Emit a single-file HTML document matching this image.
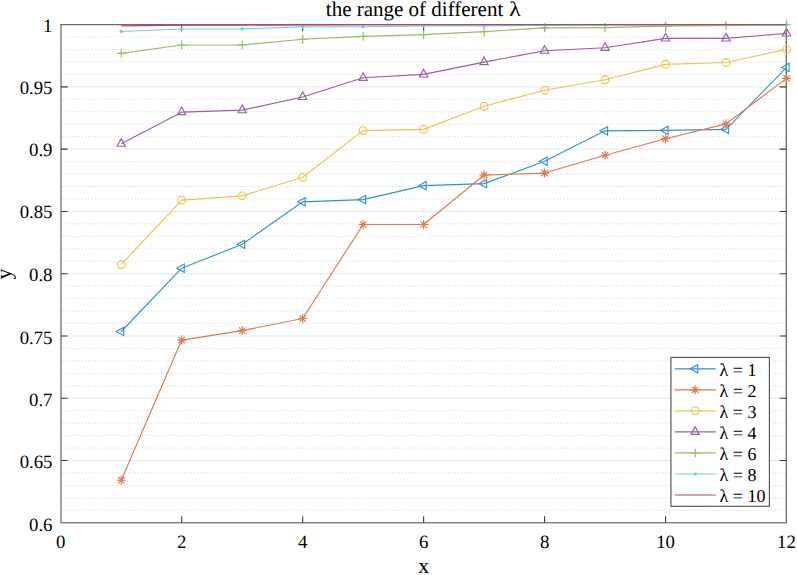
<!DOCTYPE html>
<html><head><meta charset="utf-8"><title>the range of different lambda</title>
<style>
html,body{margin:0;padding:0;background:#fff;}
body{width:797px;height:575px;overflow:hidden;font-family:"Liberation Serif",serif;}
svg{display:block;text-rendering:geometricPrecision;}
</style></head><body>
<svg width="797" height="575" viewBox="0 0 797 575">
<rect x="0" y="0" width="797" height="575" fill="#fff"/>
<g><line x1="62.00" y1="510.34" x2="786.30" y2="510.34" stroke="#d0d0d0" stroke-width="1" stroke-dasharray="1 2.3"/><line x1="62.00" y1="497.89" x2="786.30" y2="497.89" stroke="#d0d0d0" stroke-width="1" stroke-dasharray="1 2.3"/><line x1="62.00" y1="485.43" x2="786.30" y2="485.43" stroke="#d0d0d0" stroke-width="1" stroke-dasharray="1 2.3"/><line x1="62.00" y1="472.98" x2="786.30" y2="472.98" stroke="#d0d0d0" stroke-width="1" stroke-dasharray="1 2.3"/><line x1="61.00" y1="460.52" x2="786.30" y2="460.52" stroke="#e6e6e6" stroke-width="1"/><line x1="62.00" y1="448.07" x2="786.30" y2="448.07" stroke="#d0d0d0" stroke-width="1" stroke-dasharray="1 2.3"/><line x1="62.00" y1="435.62" x2="786.30" y2="435.62" stroke="#d0d0d0" stroke-width="1" stroke-dasharray="1 2.3"/><line x1="62.00" y1="423.16" x2="786.30" y2="423.16" stroke="#d0d0d0" stroke-width="1" stroke-dasharray="1 2.3"/><line x1="62.00" y1="410.71" x2="786.30" y2="410.71" stroke="#d0d0d0" stroke-width="1" stroke-dasharray="1 2.3"/><line x1="61.00" y1="398.25" x2="786.30" y2="398.25" stroke="#e6e6e6" stroke-width="1"/><line x1="62.00" y1="385.79" x2="786.30" y2="385.79" stroke="#d0d0d0" stroke-width="1" stroke-dasharray="1 2.3"/><line x1="62.00" y1="373.34" x2="786.30" y2="373.34" stroke="#d0d0d0" stroke-width="1" stroke-dasharray="1 2.3"/><line x1="62.00" y1="360.88" x2="786.30" y2="360.88" stroke="#d0d0d0" stroke-width="1" stroke-dasharray="1 2.3"/><line x1="62.00" y1="348.43" x2="786.30" y2="348.43" stroke="#d0d0d0" stroke-width="1" stroke-dasharray="1 2.3"/><line x1="61.00" y1="335.97" x2="786.30" y2="335.97" stroke="#e6e6e6" stroke-width="1"/><line x1="62.00" y1="323.52" x2="786.30" y2="323.52" stroke="#d0d0d0" stroke-width="1" stroke-dasharray="1 2.3"/><line x1="62.00" y1="311.06" x2="786.30" y2="311.06" stroke="#d0d0d0" stroke-width="1" stroke-dasharray="1 2.3"/><line x1="62.00" y1="298.61" x2="786.30" y2="298.61" stroke="#d0d0d0" stroke-width="1" stroke-dasharray="1 2.3"/><line x1="62.00" y1="286.15" x2="786.30" y2="286.15" stroke="#d0d0d0" stroke-width="1" stroke-dasharray="1 2.3"/><line x1="61.00" y1="273.70" x2="786.30" y2="273.70" stroke="#e6e6e6" stroke-width="1"/><line x1="62.00" y1="261.25" x2="786.30" y2="261.25" stroke="#d0d0d0" stroke-width="1" stroke-dasharray="1 2.3"/><line x1="62.00" y1="248.79" x2="786.30" y2="248.79" stroke="#d0d0d0" stroke-width="1" stroke-dasharray="1 2.3"/><line x1="62.00" y1="236.34" x2="786.30" y2="236.34" stroke="#d0d0d0" stroke-width="1" stroke-dasharray="1 2.3"/><line x1="62.00" y1="223.88" x2="786.30" y2="223.88" stroke="#d0d0d0" stroke-width="1" stroke-dasharray="1 2.3"/><line x1="61.00" y1="211.43" x2="786.30" y2="211.43" stroke="#e6e6e6" stroke-width="1"/><line x1="62.00" y1="198.97" x2="786.30" y2="198.97" stroke="#d0d0d0" stroke-width="1" stroke-dasharray="1 2.3"/><line x1="62.00" y1="186.51" x2="786.30" y2="186.51" stroke="#d0d0d0" stroke-width="1" stroke-dasharray="1 2.3"/><line x1="62.00" y1="174.06" x2="786.30" y2="174.06" stroke="#d0d0d0" stroke-width="1" stroke-dasharray="1 2.3"/><line x1="62.00" y1="161.61" x2="786.30" y2="161.61" stroke="#d0d0d0" stroke-width="1" stroke-dasharray="1 2.3"/><line x1="61.00" y1="149.15" x2="786.30" y2="149.15" stroke="#e6e6e6" stroke-width="1"/><line x1="62.00" y1="136.70" x2="786.30" y2="136.70" stroke="#d0d0d0" stroke-width="1" stroke-dasharray="1 2.3"/><line x1="62.00" y1="124.24" x2="786.30" y2="124.24" stroke="#d0d0d0" stroke-width="1" stroke-dasharray="1 2.3"/><line x1="62.00" y1="111.79" x2="786.30" y2="111.79" stroke="#d0d0d0" stroke-width="1" stroke-dasharray="1 2.3"/><line x1="62.00" y1="99.33" x2="786.30" y2="99.33" stroke="#d0d0d0" stroke-width="1" stroke-dasharray="1 2.3"/><line x1="61.00" y1="86.88" x2="786.30" y2="86.88" stroke="#e6e6e6" stroke-width="1"/><line x1="62.00" y1="74.42" x2="786.30" y2="74.42" stroke="#d0d0d0" stroke-width="1" stroke-dasharray="1 2.3"/><line x1="62.00" y1="61.97" x2="786.30" y2="61.97" stroke="#d0d0d0" stroke-width="1" stroke-dasharray="1 2.3"/><line x1="62.00" y1="49.51" x2="786.30" y2="49.51" stroke="#d0d0d0" stroke-width="1" stroke-dasharray="1 2.3"/><line x1="62.00" y1="37.06" x2="786.30" y2="37.06" stroke="#d0d0d0" stroke-width="1" stroke-dasharray="1 2.3"/></g>
<path d="M61.0,24.6V522.8" stroke="#8a8a8a" stroke-width="1.6"/><path d="M786.3,24.6V522.8" stroke="#6a6a6a" stroke-width="1.3"/><path d="M60.2,24.6H786.9499999999999" stroke="#6a6a6a" stroke-width="1.3"/><path d="M60.2,522.8H786.9499999999999" stroke="#858585" stroke-width="1.6"/>
<path d="M181.71,522.80V516.20M181.71,24.60V31.20M302.67,522.80V516.20M302.67,24.60V31.20M423.63,522.80V516.20M423.63,24.60V31.20M544.59,522.80V516.20M544.59,24.60V31.20M665.55,522.80V516.20M665.55,24.60V31.20M61.00,460.52H67.60M786.30,460.52H779.70M61.00,398.25H67.60M786.30,398.25H779.70M61.00,335.97H67.60M786.30,335.97H779.70M61.00,273.70H67.60M786.30,273.70H779.70M61.00,211.43H67.60M786.30,211.43H779.70M61.00,149.15H67.60M786.30,149.15H779.70M61.00,86.88H67.60M786.30,86.88H779.70" stroke="#3a3a3a" stroke-width="1.1" fill="none"/>
<polyline points="121.23,331.49 181.71,268.22 242.19,244.31 302.67,201.83 363.15,199.59 423.63,185.64 484.11,183.65 544.59,161.23 605.07,130.84 665.55,130.34 726.03,129.35 786.51,67.45" fill="none" stroke="#3891cc" stroke-width="1.15" stroke-linejoin="round"/>
<path d="M116.16,331.49 L123.76,327.34 L123.76,335.64Z" fill="none" stroke="#3891cc" stroke-width="1.15" stroke-linejoin="miter"/><path d="M176.64,268.22 L184.24,264.07 L184.24,272.37Z" fill="none" stroke="#3891cc" stroke-width="1.15" stroke-linejoin="miter"/><path d="M237.12,244.31 L244.72,240.16 L244.72,248.46Z" fill="none" stroke="#3891cc" stroke-width="1.15" stroke-linejoin="miter"/><path d="M297.60,201.83 L305.20,197.68 L305.20,205.98Z" fill="none" stroke="#3891cc" stroke-width="1.15" stroke-linejoin="miter"/><path d="M358.08,199.59 L365.68,195.44 L365.68,203.74Z" fill="none" stroke="#3891cc" stroke-width="1.15" stroke-linejoin="miter"/><path d="M418.56,185.64 L426.16,181.49 L426.16,189.79Z" fill="none" stroke="#3891cc" stroke-width="1.15" stroke-linejoin="miter"/><path d="M479.04,183.65 L486.64,179.50 L486.64,187.80Z" fill="none" stroke="#3891cc" stroke-width="1.15" stroke-linejoin="miter"/><path d="M539.52,161.23 L547.12,157.08 L547.12,165.38Z" fill="none" stroke="#3891cc" stroke-width="1.15" stroke-linejoin="miter"/><path d="M600.00,130.84 L607.60,126.69 L607.60,134.99Z" fill="none" stroke="#3891cc" stroke-width="1.15" stroke-linejoin="miter"/><path d="M660.48,130.34 L668.08,126.19 L668.08,134.49Z" fill="none" stroke="#3891cc" stroke-width="1.15" stroke-linejoin="miter"/><path d="M720.96,129.35 L728.56,125.20 L728.56,133.50Z" fill="none" stroke="#3891cc" stroke-width="1.15" stroke-linejoin="miter"/><path d="M781.44,67.45 L789.04,63.30 L789.04,71.60Z" fill="none" stroke="#3891cc" stroke-width="1.15" stroke-linejoin="miter"/>
<polyline points="121.23,480.20 181.71,340.09 242.19,330.62 302.67,318.54 363.15,224.50 423.63,224.50 484.11,175.06 544.59,173.06 605.07,155.25 665.55,138.69 726.03,123.87 786.51,78.41" fill="none" stroke="#e1794c" stroke-width="1.15" stroke-linejoin="round"/>
<path d="M116.73,480.20H125.73M121.23,475.70V484.70M118.05,477.02L124.41,483.39M118.05,483.39L124.41,477.02" stroke="#e1794c" stroke-width="1.15"/><path d="M177.21,340.09H186.21M181.71,335.59V344.59M178.53,336.90L184.89,343.27M178.53,343.27L184.89,336.90" stroke="#e1794c" stroke-width="1.15"/><path d="M237.69,330.62H246.69M242.19,326.12V335.12M239.01,327.44L245.37,333.80M239.01,333.80L245.37,327.44" stroke="#e1794c" stroke-width="1.15"/><path d="M298.17,318.54H307.17M302.67,314.04V323.04M299.49,315.36L305.85,321.72M299.49,321.72L305.85,315.36" stroke="#e1794c" stroke-width="1.15"/><path d="M358.65,224.50H367.65M363.15,220.00V229.00M359.97,221.32L366.33,227.68M359.97,227.68L366.33,221.32" stroke="#e1794c" stroke-width="1.15"/><path d="M419.13,224.50H428.13M423.63,220.00V229.00M420.45,221.32L426.81,227.68M420.45,227.68L426.81,221.32" stroke="#e1794c" stroke-width="1.15"/><path d="M479.61,175.06H488.61M484.11,170.56V179.56M480.93,171.87L487.29,178.24M480.93,178.24L487.29,171.87" stroke="#e1794c" stroke-width="1.15"/><path d="M540.09,173.06H549.09M544.59,168.56V177.56M541.41,169.88L547.77,176.25M541.41,176.25L547.77,169.88" stroke="#e1794c" stroke-width="1.15"/><path d="M600.57,155.25H609.57M605.07,150.75V159.75M601.89,152.07L608.25,158.43M601.89,158.43L608.25,152.07" stroke="#e1794c" stroke-width="1.15"/><path d="M661.05,138.69H670.05M665.55,134.19V143.19M662.37,135.51L668.73,141.87M662.37,141.87L668.73,135.51" stroke="#e1794c" stroke-width="1.15"/><path d="M721.53,123.87H730.53M726.03,119.37V128.37M722.85,120.68L729.21,127.05M722.85,127.05L729.21,120.68" stroke="#e1794c" stroke-width="1.15"/><path d="M782.01,78.41H791.01M786.51,73.91V82.91M783.33,75.22L789.69,81.59M783.33,81.59L789.69,75.22" stroke="#e1794c" stroke-width="1.15"/>
<polyline points="121.23,264.48 181.71,200.09 242.19,195.86 302.67,177.30 363.15,130.59 423.63,129.35 484.11,106.30 544.59,90.24 605.07,79.78 665.55,64.33 726.03,62.46 786.51,49.39" fill="none" stroke="#f1c251" stroke-width="1.15" stroke-linejoin="round"/>
<circle cx="121.23" cy="264.48" r="3.9" fill="none" stroke="#f1c251" stroke-width="1.15"/><circle cx="181.71" cy="200.09" r="3.9" fill="none" stroke="#f1c251" stroke-width="1.15"/><circle cx="242.19" cy="195.86" r="3.9" fill="none" stroke="#f1c251" stroke-width="1.15"/><circle cx="302.67" cy="177.30" r="3.9" fill="none" stroke="#f1c251" stroke-width="1.15"/><circle cx="363.15" cy="130.59" r="3.9" fill="none" stroke="#f1c251" stroke-width="1.15"/><circle cx="423.63" cy="129.35" r="3.9" fill="none" stroke="#f1c251" stroke-width="1.15"/><circle cx="484.11" cy="106.30" r="3.9" fill="none" stroke="#f1c251" stroke-width="1.15"/><circle cx="544.59" cy="90.24" r="3.9" fill="none" stroke="#f1c251" stroke-width="1.15"/><circle cx="605.07" cy="79.78" r="3.9" fill="none" stroke="#f1c251" stroke-width="1.15"/><circle cx="665.55" cy="64.33" r="3.9" fill="none" stroke="#f1c251" stroke-width="1.15"/><circle cx="726.03" cy="62.46" r="3.9" fill="none" stroke="#f1c251" stroke-width="1.15"/><circle cx="786.51" cy="49.39" r="3.9" fill="none" stroke="#f1c251" stroke-width="1.15"/>
<polyline points="121.23,143.67 181.71,112.16 242.19,110.17 302.67,96.96 363.15,77.78 423.63,74.42 484.11,62.09 544.59,50.76 605.07,47.77 665.55,38.43 726.03,38.43 786.51,33.44" fill="none" stroke="#9a5da7" stroke-width="1.15" stroke-linejoin="round"/>
<path d="M121.23,138.60 L125.38,146.20 L117.08,146.20Z" fill="none" stroke="#9a5da7" stroke-width="1.15" stroke-linejoin="miter"/><path d="M181.71,107.09 L185.86,114.69 L177.56,114.69Z" fill="none" stroke="#9a5da7" stroke-width="1.15" stroke-linejoin="miter"/><path d="M242.19,105.10 L246.34,112.70 L238.04,112.70Z" fill="none" stroke="#9a5da7" stroke-width="1.15" stroke-linejoin="miter"/><path d="M302.67,91.90 L306.82,99.50 L298.52,99.50Z" fill="none" stroke="#9a5da7" stroke-width="1.15" stroke-linejoin="miter"/><path d="M363.15,72.72 L367.30,80.32 L359.00,80.32Z" fill="none" stroke="#9a5da7" stroke-width="1.15" stroke-linejoin="miter"/><path d="M423.63,69.35 L427.78,76.95 L419.48,76.95Z" fill="none" stroke="#9a5da7" stroke-width="1.15" stroke-linejoin="miter"/><path d="M484.11,57.02 L488.26,64.62 L479.96,64.62Z" fill="none" stroke="#9a5da7" stroke-width="1.15" stroke-linejoin="miter"/><path d="M544.59,45.69 L548.74,53.29 L540.44,53.29Z" fill="none" stroke="#9a5da7" stroke-width="1.15" stroke-linejoin="miter"/><path d="M605.07,42.70 L609.22,50.30 L600.92,50.30Z" fill="none" stroke="#9a5da7" stroke-width="1.15" stroke-linejoin="miter"/><path d="M665.55,33.36 L669.70,40.96 L661.40,40.96Z" fill="none" stroke="#9a5da7" stroke-width="1.15" stroke-linejoin="miter"/><path d="M726.03,33.36 L730.18,40.96 L721.88,40.96Z" fill="none" stroke="#9a5da7" stroke-width="1.15" stroke-linejoin="miter"/><path d="M786.51,28.38 L790.66,35.98 L782.36,35.98Z" fill="none" stroke="#9a5da7" stroke-width="1.15" stroke-linejoin="miter"/>
<polyline points="121.23,53.37 181.71,45.03 242.19,44.90 302.67,39.30 363.15,36.31 423.63,34.56 484.11,31.57 544.59,27.84 605.07,27.59 665.55,26.09 726.03,25.35 786.51,24.72" fill="none" stroke="#95be5e" stroke-width="1.15" stroke-linejoin="round"/>
<path d="M116.73,53.37H125.73M121.23,48.87V57.87" stroke="#95be5e" stroke-width="1.15"/><path d="M177.21,45.03H186.21M181.71,40.53V49.53" stroke="#95be5e" stroke-width="1.15"/><path d="M237.69,44.90H246.69M242.19,40.40V49.40" stroke="#95be5e" stroke-width="1.15"/><path d="M298.17,39.30H307.17M302.67,34.80V43.80" stroke="#95be5e" stroke-width="1.15"/><path d="M358.65,36.31H367.65M363.15,31.81V40.81" stroke="#95be5e" stroke-width="1.15"/><path d="M419.13,34.56H428.13M423.63,30.06V39.06" stroke="#95be5e" stroke-width="1.15"/><path d="M479.61,31.57H488.61M484.11,27.07V36.07" stroke="#95be5e" stroke-width="1.15"/><path d="M540.09,27.84H549.09M544.59,23.34V32.34" stroke="#95be5e" stroke-width="1.15"/><path d="M600.57,27.59H609.57M605.07,23.09V32.09" stroke="#95be5e" stroke-width="1.15"/><path d="M661.05,26.09H670.05M665.55,21.59V30.59" stroke="#95be5e" stroke-width="1.15"/><path d="M721.53,25.35H730.53M726.03,20.85V29.85" stroke="#95be5e" stroke-width="1.15"/><path d="M782.01,24.72H791.01M786.51,20.22V29.22" stroke="#95be5e" stroke-width="1.15"/>
<polyline points="121.23,31.45 181.71,29.02 242.19,28.90 302.67,26.84 363.15,26.72 423.63,25.85 484.11,25.85 544.59,25.10 605.07,24.97 665.55,24.85 726.03,24.72 786.51,24.60" fill="none" stroke="#74ccf2" stroke-width="1.15" stroke-linejoin="round"/>
<circle cx="121.23" cy="31.45" r="1.8" fill="#74ccf2"/><circle cx="181.71" cy="29.02" r="1.8" fill="#74ccf2"/><circle cx="242.19" cy="28.90" r="1.8" fill="#74ccf2"/><circle cx="302.67" cy="26.84" r="1.8" fill="#74ccf2"/><circle cx="363.15" cy="26.72" r="1.8" fill="#74ccf2"/><circle cx="423.63" cy="25.85" r="1.8" fill="#74ccf2"/><circle cx="484.11" cy="25.85" r="1.8" fill="#74ccf2"/><circle cx="544.59" cy="25.10" r="1.8" fill="#74ccf2"/><circle cx="605.07" cy="24.97" r="1.8" fill="#74ccf2"/><circle cx="665.55" cy="24.85" r="1.8" fill="#74ccf2"/><circle cx="726.03" cy="24.72" r="1.8" fill="#74ccf2"/><circle cx="786.51" cy="24.60" r="1.8" fill="#74ccf2"/>
<polyline points="121.23,25.85 181.71,25.16 242.19,25.10 302.67,24.85 363.15,24.72 423.63,24.60 484.11,24.60 544.59,24.60 605.07,24.60 665.55,24.60 726.03,24.60 786.51,24.60" fill="none" stroke="#b6485d" stroke-width="1.15" stroke-linejoin="round"/>

<g font-family="Liberation Serif" font-size="18.8" fill="#000"><text x="60.75" y="548.3" text-anchor="middle">0</text><text x="181.71" y="548.3" text-anchor="middle">2</text><text x="302.67" y="548.3" text-anchor="middle">4</text><text x="423.63" y="548.3" text-anchor="middle">6</text><text x="544.59" y="548.3" text-anchor="middle">8</text><text x="665.55" y="548.3" text-anchor="middle">10</text><text x="786.51" y="548.3" text-anchor="middle">12</text><text x="52.5" y="530.60" text-anchor="end">0.6</text><text x="52.5" y="468.12" text-anchor="end">0.65</text><text x="52.5" y="405.85" text-anchor="end">0.7</text><text x="52.5" y="343.68" text-anchor="end">0.75</text><text x="52.5" y="280.60" text-anchor="end">0.8</text><text x="52.5" y="218.18" text-anchor="end">0.85</text><text x="52.5" y="155.90" text-anchor="end">0.9</text><text x="52.5" y="93.63" text-anchor="end">0.95</text><text x="52.5" y="31.55" text-anchor="end">1</text></g>
<text x="423.63" y="573.4" text-anchor="middle" font-family="Liberation Serif" font-size="22" fill="#000">x</text>
<text transform="translate(11.2,273.9) rotate(-90)" text-anchor="middle" font-family="Liberation Serif" font-size="22" fill="#000">y</text>
<text x="325.8" y="15.6" font-family="Liberation Serif" font-size="21" fill="#000">the range of different</text>
<text transform="translate(509.3,15.6) scale(1.12,1)" font-family="Liberation Serif" font-size="21" fill="#000">λ</text>
<rect x="670.9" y="357.4" width="98.50" height="148.90" fill="#fff" stroke="#5a5a5a" stroke-width="1.2"/>
<line x1="674.9" y1="368.80" x2="715.8" y2="368.80" stroke="#3891cc" stroke-width="1.15"/><path d="M690.13,368.80 L697.73,364.65 L697.73,372.95Z" fill="none" stroke="#3891cc" stroke-width="1.15" stroke-linejoin="miter"/><text x="719.5" y="376.10" font-family="Liberation Serif" font-size="18" fill="#000">λ = 1</text><line x1="674.9" y1="389.83" x2="715.8" y2="389.83" stroke="#e1794c" stroke-width="1.15"/><path d="M690.70,389.83H699.70M695.20,385.33V394.33M692.02,386.65L698.38,393.01M692.02,393.01L698.38,386.65" stroke="#e1794c" stroke-width="1.15"/><text x="719.5" y="397.13" font-family="Liberation Serif" font-size="18" fill="#000">λ = 2</text><line x1="674.9" y1="410.86" x2="715.8" y2="410.86" stroke="#f1c251" stroke-width="1.15"/><circle cx="695.20" cy="410.86" r="3.9" fill="none" stroke="#f1c251" stroke-width="1.15"/><text x="719.5" y="418.16" font-family="Liberation Serif" font-size="18" fill="#000">λ = 3</text><line x1="674.9" y1="431.89" x2="715.8" y2="431.89" stroke="#9a5da7" stroke-width="1.15"/><path d="M695.20,426.82 L699.35,434.42 L691.05,434.42Z" fill="none" stroke="#9a5da7" stroke-width="1.15" stroke-linejoin="miter"/><text x="719.5" y="439.19" font-family="Liberation Serif" font-size="18" fill="#000">λ = 4</text><line x1="674.9" y1="452.92" x2="715.8" y2="452.92" stroke="#95be5e" stroke-width="1.15"/><path d="M690.70,452.92H699.70M695.20,448.42V457.42" stroke="#95be5e" stroke-width="1.15"/><text x="719.5" y="460.22" font-family="Liberation Serif" font-size="18" fill="#000">λ = 6</text><line x1="674.9" y1="473.95" x2="715.8" y2="473.95" stroke="#74ccf2" stroke-width="1.15"/><circle cx="695.20" cy="473.95" r="1.8" fill="#74ccf2"/><text x="719.5" y="481.25" font-family="Liberation Serif" font-size="18" fill="#000">λ = 8</text><line x1="674.9" y1="494.98" x2="715.8" y2="494.98" stroke="#b6485d" stroke-width="1.15"/><text x="719.5" y="502.28" font-family="Liberation Serif" font-size="18" fill="#000">λ = 10</text>
</svg>
</body></html>
